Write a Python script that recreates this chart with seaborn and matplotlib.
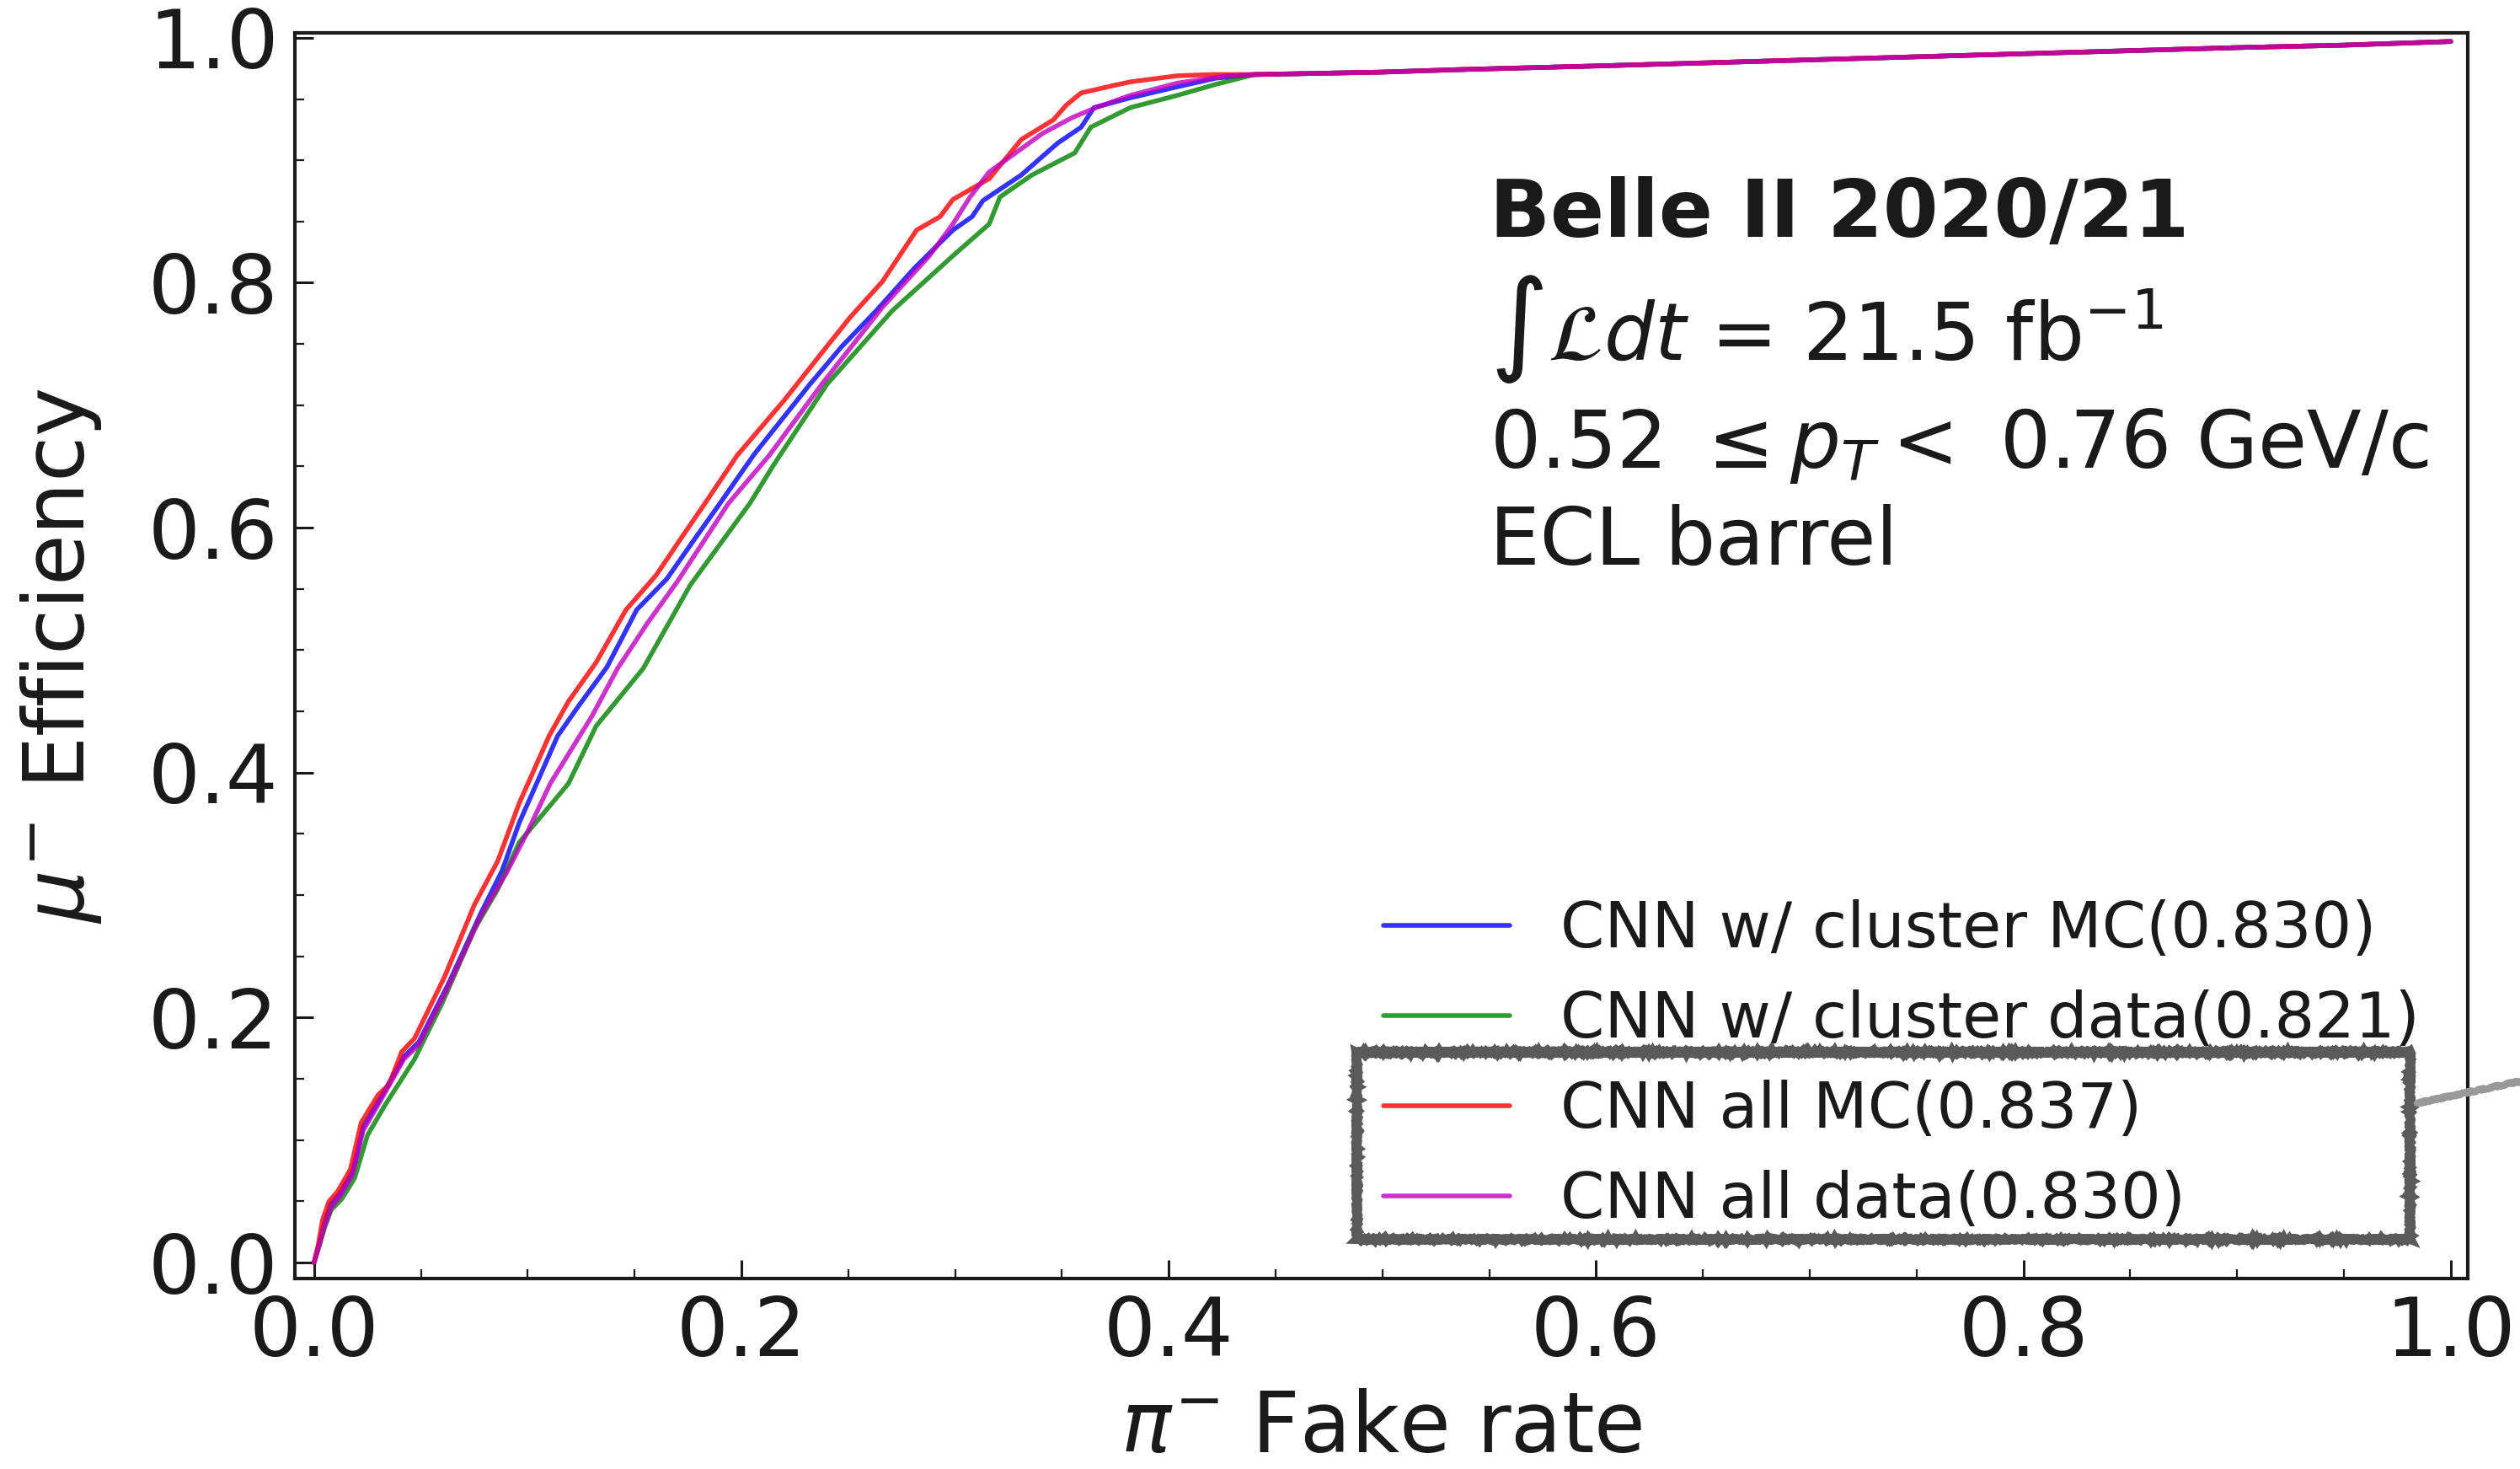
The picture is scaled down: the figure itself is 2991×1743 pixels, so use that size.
import numpy as np
import matplotlib
matplotlib.use('Agg')
import matplotlib.pyplot as plt
import seaborn as sns
from matplotlib.ticker import MultipleLocator
from matplotlib.lines import Line2D

# ROC curves (fake rate, efficiency)
blue_x = [0, 0.002, 0.005, 0.008, 0.012, 0.018, 0.023, 0.031, 0.042, 0.049, 0.063, 0.078, 0.088, 0.096,
          0.114, 0.124, 0.137, 0.151, 0.165, 0.177, 0.190, 0.206, 0.232, 0.247, 0.263, 0.281, 0.299, 0.308,
          0.313, 0.331, 0.348, 0.359, 0.365, 0.382, 0.404, 0.422]
blue_y = [0, 0.013, 0.033, 0.048, 0.056, 0.074, 0.111, 0.134, 0.168, 0.180, 0.228, 0.285, 0.320, 0.359,
          0.430, 0.455, 0.486, 0.533, 0.558, 0.588, 0.620, 0.660, 0.717, 0.748, 0.777, 0.812, 0.843, 0.854,
          0.867, 0.888, 0.914, 0.927, 0.943, 0.951, 0.960, 0.967]

green_x = [0, 0.002, 0.005, 0.008, 0.013, 0.019, 0.025, 0.033, 0.047, 0.060, 0.075, 0.086, 0.096, 0.119,
           0.132, 0.154, 0.176, 0.204, 0.215, 0.240, 0.2705, 0.299, 0.316, 0.321, 0.336, 0.356, 0.3635,
           0.382, 0.404, 0.422]
green_y = [0, 0.011, 0.029, 0.043, 0.052, 0.069, 0.104, 0.128, 0.166, 0.212, 0.272, 0.305, 0.343, 0.391,
           0.438, 0.485, 0.553, 0.620, 0.651, 0.717, 0.777, 0.822, 0.848, 0.870, 0.888, 0.906, 0.927,
           0.943, 0.953, 0.962]

red_x = [0, 0.002, 0.004, 0.007, 0.011, 0.017, 0.022, 0.030, 0.035, 0.041, 0.047, 0.061, 0.075, 0.086,
         0.096, 0.110, 0.119, 0.132, 0.146, 0.160, 0.172, 0.183, 0.198, 0.220, 0.240, 0.251, 0.266, 0.282,
         0.293, 0.299, 0.316, 0.331, 0.346, 0.352, 0.359, 0.374, 0.382, 0.404, 0.420]
red_y = [0, 0.015, 0.035, 0.050, 0.058, 0.076, 0.114, 0.137, 0.145, 0.172, 0.183, 0.233, 0.292, 0.328,
         0.375, 0.430, 0.458, 0.490, 0.533, 0.561, 0.592, 0.620, 0.659, 0.704, 0.748, 0.772, 0.801, 0.843,
         0.854, 0.868, 0.885, 0.917, 0.933, 0.945, 0.955, 0.961, 0.964, 0.969, 0.970]

mag_x = [0, 0.002, 0.005, 0.008, 0.012, 0.018, 0.023, 0.031, 0.042, 0.049, 0.063, 0.078, 0.090, 0.100,
         0.1105, 0.130, 0.142, 0.156, 0.170, 0.182, 0.194, 0.213, 0.238, 0.266, 0.288, 0.299, 0.307, 0.316,
         0.341, 0.355, 0.366, 0.382, 0.404, 0.427]
mag_y = [0, 0.012, 0.030, 0.045, 0.054, 0.072, 0.108, 0.132, 0.166, 0.178, 0.226, 0.283, 0.318, 0.352,
         0.391, 0.446, 0.485, 0.522, 0.556, 0.588, 0.620, 0.659, 0.718, 0.780, 0.822, 0.848, 0.870, 0.8905,
         0.922, 0.935, 0.943, 0.953, 0.963, 0.969]

# all four curves lie on top of each other past ~0.44
tail_x = [0.44, 0.47, 0.50, 0.535, 0.60, 0.64, 0.72, 0.80, 0.84, 0.90, 0.95, 1.0]
tail_y = [0.970, 0.971, 0.972, 0.974, 0.977, 0.979, 0.983, 0.987, 0.989, 0.992, 0.994, 0.997]

labels = ['CNN w/ cluster MC(0.830)', 'CNN w/ cluster data(0.821)',
          'CNN all MC(0.837)', 'CNN all data(0.830)']
colors = ['b', 'g', 'r', 'm']

sns.set_style('ticks')
plt.rcParams['font.family'] = ['DejaVu Sans']
plt.rcParams['mathtext.fontset'] = 'dejavusans'

fig = plt.figure(figsize=(29.91, 17.43), dpi=100)
ax = fig.add_axes([0.117, 0.1297, 0.8623, 0.8479])

curves = [(blue_x, blue_y), (green_x, green_y), (red_x, red_y), (mag_x, mag_y)]
for (cx, cy), lab, col in zip(curves, labels, colors):
    sns.lineplot(x=np.r_[cx, tail_x], y=np.r_[cy, tail_y], sort=False, estimator=None,
                 color=col, alpha=0.8, lw=4, label=lab, ax=ax)

ax.set_xlim(-0.009, 1.008)
ax.set_ylim(-0.013, 1.004)
ax.xaxis.set_major_locator(MultipleLocator(0.2))
ax.yaxis.set_major_locator(MultipleLocator(0.2))
ax.xaxis.set_minor_locator(MultipleLocator(0.05))
ax.yaxis.set_minor_locator(MultipleLocator(0.05))
ax.tick_params(which='both', direction='in', top=False, right=False, colors='#1a1a1a')
ax.tick_params(which='major', length=16, width=2.2, labelsize=70, pad=14)
ax.tick_params(which='minor', length=8, width=1.6)
for s in ax.spines.values():
    s.set_linewidth(3)
    s.set_color('#1a1a1a')

ax.set_xlabel(r'$\pi^{-}$ Fake rate', fontsize=71, color='#1a1a1a')
ax.set_ylabel(r'$\mu^{-}$ Efficiency', fontsize=71, color='#1a1a1a')
ax.xaxis.set_label_coords(0.5, -0.088)
ax.yaxis.set_label_coords(-0.088, 0.5)

leg = ax.legend(loc='upper left', bbox_to_anchor=(1574 / 2991, 1 - 1000 / 1743),
                bbox_transform=fig.transFigure, frameon=False, fontsize=54,
                labelspacing=0.45, handlelength=2.0, handletextpad=0.8)
for t in leg.get_texts():
    t.set_color('#1a1a1a')

txt = dict(fontsize=68, color='#1a1a1a', va='baseline', ha='left')
fig.text(0.591, 1 - 281 / 1743, 'Belle II 2020/21', fontweight='bold', **txt)
fig.text(0.591, 1 - 427 / 1743, r'$\int\mathcal{L}dt$ = 21.5 fb$^{-1}$', **txt)
fig.text(0.591, 1 - 555 / 1743, r'0.52 $\leq p_T <$ 0.76 GeV/c', **txt)
fig.text(0.591, 1 - 670 / 1743, 'ECL barrel', **txt)

# hand-drawn highlight box round the last two legend entries
bx0, bx1 = 1610 / 2991, 2860 / 2991
by0, by1 = 1 - 1470 / 1743, 1 - 1248 / 1743
box = Line2D([bx0, bx1, bx1, bx0, bx0, bx1], [by1, by1, by0, by0, by1, by1],
             transform=fig.transFigure, color='#5a5a5a', lw=8, solid_joinstyle='miter')
box.set_sketch_params(scale=1, length=3, randomness=10)
fig.add_artist(box)
link = Line2D([2869 / 2991, 1.0], [1 - 1309 / 1743, 1 - 1283 / 1743],
              transform=fig.transFigure, color='#999999', lw=6)
link.set_sketch_params(scale=1, length=3, randomness=10)
fig.add_artist(link)

fig.savefig('out.png', dpi=100)
